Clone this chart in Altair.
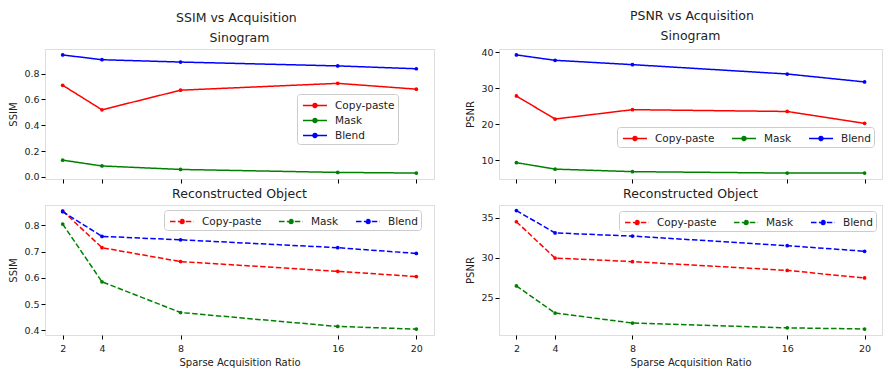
import altair as alt
import pandas as pd

ratios = [2, 4, 8, 16, 20]
methods = ["Copy-paste", "Mask", "Blend"]
colors = ["#ff0000", "#008000", "#0000ff"]

ssim_sino = {
    "Copy-paste": [0.71, 0.52, 0.672, 0.725, 0.68],
    "Mask": [0.13, 0.085, 0.058, 0.035, 0.03],
    "Blend": [0.945, 0.908, 0.89, 0.86, 0.838],
}
ssim_recon = {
    "Copy-paste": [0.855, 0.715, 0.662, 0.625, 0.605],
    "Mask": [0.805, 0.585, 0.468, 0.415, 0.405],
    "Blend": [0.852, 0.758, 0.745, 0.715, 0.693],
}
psnr_sino = {
    "Copy-paste": [27.9, 21.5, 24.1, 23.6, 20.3],
    "Mask": [9.4, 7.6, 6.9, 6.5, 6.5],
    "Blend": [39.3, 37.8, 36.6, 34.0, 31.8],
}
psnr_recon = {
    "Copy-paste": [34.5, 29.95, 29.5, 28.4, 27.45],
    "Mask": [26.45, 23.05, 21.8, 21.2, 21.05],
    "Blend": [35.9, 33.1, 32.7, 31.5, 30.8],
}

FONT = "DejaVu Sans"
TXT = "#222222"
DASH = [5.5, 2.4]
SYMBOL = "M-1.6,0L1.6,0M0.27,0A0.27,0.27,0,1,1,-0.27,0A0.27,0.27,0,1,1,0.27,0Z"
H = 130


def to_df(d):
    rows = []
    for m in methods:
        for r, v in zip(ratios, d[m]):
            rows.append({"ratio": r, "value": v, "method": m})
    return pd.DataFrame(rows)


def panel(d, ytitle, ydomain, yticks, yfmt, dashed, title, show_xlabels, lx, ly, horizontal, width):
    df = to_df(d)
    legend = alt.Legend(
        title=None,
        orient="none",
        legendX=lx,
        legendY=ly,
        direction="horizontal" if horizontal else "vertical",
        columns=3 if horizontal else 1,
        symbolType=SYMBOL,
        symbolSize=225,
        symbolStrokeWidth=1.5,
        symbolDash=DASH if dashed else [1, 0],
        symbolOffset=6.5,
        labelFont=FONT,
        labelFontSize=10.5,
        labelColor=TXT,
        fillColor="white",
        strokeColor="#cccccc",
        cornerRadius=3,
        padding=3,
        rowPadding=1,
        columnPadding=14,
        labelOffset=11.5,
    )
    xaxis = alt.Axis(
        values=ratios,
        labels=show_xlabels,
        title="Sparse Acquisition Ratio" if show_xlabels else None,
        grid=False,
        tickColor="black",
        domain=False,
        labelFont=FONT,
        labelFontSize=9.5,
        labelColor=TXT,
        labelPadding=4,
        titleFont=FONT,
        titleFontSize=10,
        titleFontWeight="normal",
        titleColor=TXT,
        titlePadding=5,
        tickSize=4,
        labelOverlap=False,
    )
    yaxis = alt.Axis(
        values=yticks,
        format=yfmt,
        title=ytitle,
        grid=False,
        tickColor="black",
        domain=False,
        labelFont=FONT,
        labelFontSize=9.5,
        labelColor=TXT,
        labelPadding=2,
        titleFont=FONT,
        titleFontSize=10,
        titleFontWeight="normal",
        titleColor=TXT,
        titlePadding=5,
        tickSize=4,
        labelOverlap=False,
    )
    cscale = alt.Scale(domain=methods, range=colors)
    base = alt.Chart(df).encode(
        x=alt.X("ratio:Q", scale=alt.Scale(domain=[1.1, 20.9], nice=False, zero=False), axis=xaxis),
        y=alt.Y("value:Q", scale=alt.Scale(domain=ydomain, nice=False, zero=False), axis=yaxis),
        color=alt.Color("method:N", scale=cscale, sort=methods, legend=legend),
    )
    line = base.mark_line(strokeWidth=1.5, strokeDash=DASH if dashed else [1, 0])
    pts = base.mark_circle(size=14, opacity=1)
    return (line + pts).properties(
        width=width,
        height=H,
        title=alt.TitleParams(title, font=FONT, fontSize=12.5, fontWeight="normal", color=TXT, offset=5),
    )


def suptitle(text, dx):
    return alt.TitleParams(text, font=FONT, fontSize=12.5, fontWeight="normal", color=TXT,
                           anchor="middle", offset=6.5, dx=dx)


left = alt.vconcat(
    panel(ssim_sino, "SSIM", [-0.016, 0.991], [0.0, 0.2, 0.4, 0.6, 0.8], ".1f", False, "Sinogram", False, 252, 45, False, 389),
    panel(ssim_recon, "SSIM", [0.3825, 0.8775], [0.4, 0.5, 0.6, 0.7, 0.8], ".1f", True, "Reconstructed Object", True, 119, 5, True, 389),
    spacing=3,
).properties(title=suptitle("SSIM vs Acquisition", 15)).resolve_scale(color="independent").resolve_legend(color="independent")

right = alt.vconcat(
    panel(psnr_sino, "PSNR", [4.86, 40.94], [10, 20, 30, 40], "d", False, "Sinogram", False, 118, 78, True, 383),
    panel(psnr_recon, "PSNR", [20.3, 36.6], [25, 30, 35], "d", True, "Reconstructed Object", True, 120, 6, True, 383),
    spacing=3,
).properties(title=suptitle("PSNR vs Acquisition", 18)).resolve_scale(color="independent").resolve_legend(color="independent")

chart = (
    alt.hconcat(left, right, spacing=30)
    .resolve_scale(color="independent")
    .resolve_legend(color="independent")
    .properties(padding={"top": 2, "left": 0, "right": 0, "bottom": 0})
    .configure_view(stroke="black", strokeWidth=1)
    .configure(background="white")
)

chart.save("out.html", embed_options={"renderer": "svg", "actions": False})
